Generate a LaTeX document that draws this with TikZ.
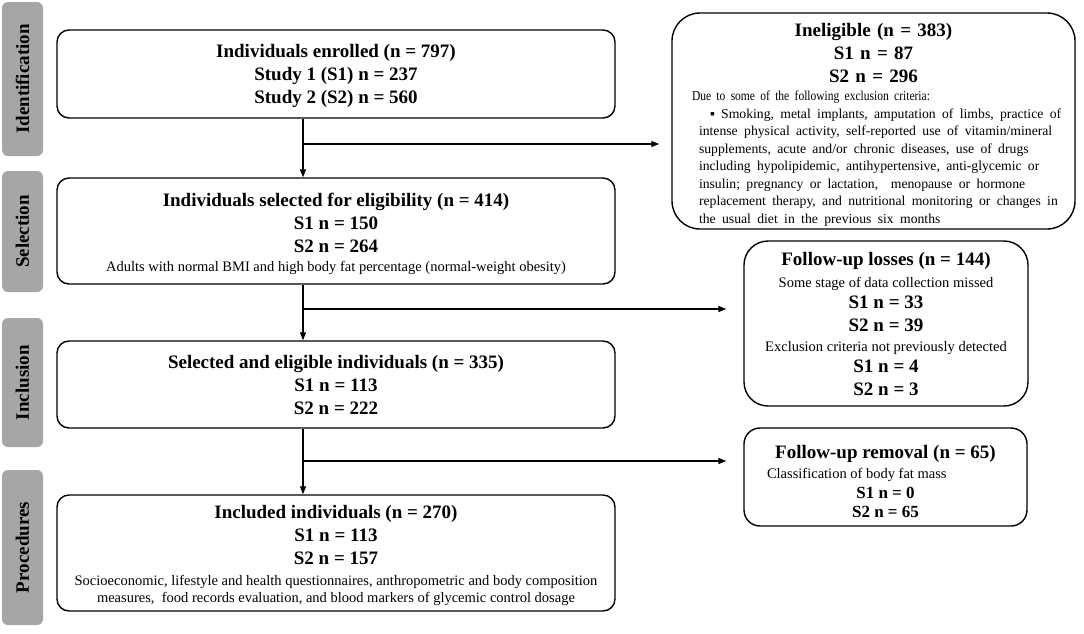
\documentclass[tikz,border=0pt]{standalone}
\usepackage{fontspec}
\setmainfont{Liberation Serif}
\usetikzlibrary{arrows.meta}
\definecolor{labgray}{RGB}{166,166,166}
\newcommand{\bigf}{\fontsize{19}{23}\selectfont\bfseries}
\newcommand{\smf}{\fontsize{14.5}{17.5}\selectfont\mdseries}
\newcommand{\bodyf}{\fontsize{13.7}{17.5}\selectfont\mdseries}
\newcommand{\midf}{\fontsize{17}{20}\selectfont\bfseries}
\begin{document}
\begin{tikzpicture}[x=1pt,y=-1pt,
  lab/.style={fill=labgray, rounded corners=6pt, inner sep=0pt, font=\bigf, rotate=90, minimum height=41pt},
  mainbox/.style={draw, line width=1.4pt, rounded corners=12pt, inner sep=0pt, minimum width=558pt, align=center, font=\bigf},
  sidebox/.style={draw, line width=1.4pt, rounded corners=24pt, inner sep=0pt, align=center, font=\bigf},
  arr/.style={line width=1.2pt, -{Triangle[length=8pt,width=6pt]}}]
\useasboundingbox (0,0) rectangle (1084,633);

% stage labels
\node[lab, minimum width=154pt] (l1) at (22.5,79) {Identification};
\node[lab, minimum width=121pt] (l2) at (22.5,231.5) {Selection};
\node[lab, minimum width=129pt] (l3) at (22.5,382.5) {Inclusion};
\node[lab, minimum width=155pt] (l4) at (22.5,547.5) {Procedures};

% main column
\node[mainbox, minimum height=88pt] (b1) at (336,74)
  {\rule{0pt}{17pt}Individuals enrolled (n = 797)\\Study 1 (S1) n = 237\\Study 2 (S2) n = 560};
\node[mainbox, minimum height=106pt] (b2) at (336,231)
  {\rule{0pt}{19pt}Individuals selected for eligibility (n = 414)\\S1 n = 150\\S2 n = 264\\[-4pt]{\smf Adults with normal BMI and high body fat percentage (normal-weight obesity)}};
\node[mainbox, minimum height=87pt] (b3) at (336,384.5)
  {Selected and eligible individuals (n = 335)\\S1 n = 113\\S2 n = 222};
\node[mainbox, minimum height=116pt] (b4) at (336,553)
  {\rule{0pt}{18pt}Included individuals (n = 270)\\S1 n = 113\\S2 n = 157\\[-2pt]{\smf Socioeconomic, lifestyle and health questionnaires, anthropometric and body composition}\\[-6pt]{\smf measures,\ \ food records evaluation, and blood markers of glycemic control dosage}};

% side boxes
\node[sidebox, rounded corners=28pt, minimum width=403pt, minimum height=216pt, text width=379pt, align=left] (inel) at (873.5,121)
  {{\centering\bigf\rule{0pt}{21pt}Ineligible (n = 383)\\S1 n = 87\\S2 n = 296\par}
   \vspace{0.5pt}
   {\bodyf
   \noindent\hspace*{8pt}\scalebox{0.84}[1]{Due to some of the following exclusion criteria:}\par
   \noindent\hspace*{26pt}\makebox[349pt][s]{▪ Smoking, metal implants, amputation of limbs, practice of}\par
   \noindent\hspace*{15pt}\makebox[360pt][s]{intense physical activity, self-reported use of vitamin/mineral}\par
   \noindent\hspace*{15pt}\makebox[360pt][s]{supplements, acute and/or chronic diseases, use of drugs}\par
   \noindent\hspace*{15pt}\makebox[360pt][s]{including hypolipidemic, antihypertensive, anti-glycemic or}\par
   \noindent\hspace*{15pt}\makebox[360pt][s]{insulin; pregnancy or lactation, \ menopause or hormone}\par
   \noindent\hspace*{15pt}\makebox[360pt][s]{replacement therapy, and nutritional monitoring or changes in}\par
   \noindent\hspace*{15pt}the usual diet in the previous six months\par}};
\node[sidebox, minimum width=284pt, minimum height=165pt] (loss) at (886,323.5)
  {Follow-up losses (n = 144)\\[-1pt]{\smf Some stage of data collection missed}\\[-2pt]S1 n = 33\\S2 n = 39\\[-3pt]{\smf Exclusion criteria not previously detected}\\[-2pt]S1 n = 4\\S2 n = 3};
\node[sidebox, rounded corners=16pt, minimum width=283pt, minimum height=98pt] (rem) at (885.5,477)
  {\rule{0pt}{23pt}Follow-up removal (n = 65)\\[-3pt]{\smf\makebox[237pt][l]{Classification of body fat mass}}\\[-3pt]{\midf S1 n = 0}\\[-4pt]{\midf S2 n = 65}};

% connectors
\coordinate (t) at (303,0);
\coordinate (j1) at (303,144);
\coordinate (j2) at (303,309);
\coordinate (j3) at (303,461);
\draw[arr] (b1.south -| t) -- (b2.north -| t);
\draw[arr, shorten >=12pt] (j1) -- (j1 -| inel.west);
\draw[arr] (b2.south -| t) -- (b3.north -| t);
\draw[arr, shorten >=17pt] (j2) -- (j2 -| loss.west);
\draw[arr] (b3.south -| t) -- (b4.north -| t);
\draw[arr, shorten >=17pt] (j3) -- (j3 -| rem.west);
\end{tikzpicture}
\end{document}
